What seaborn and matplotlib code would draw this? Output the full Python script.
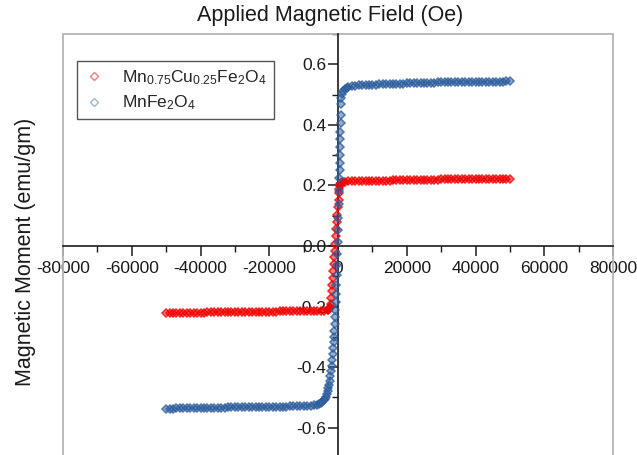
import matplotlib
matplotlib.use("Agg")
import matplotlib.pyplot as plt
import matplotlib.colors as mcolors
import seaborn as sns
import pandas as pd
from matplotlib.patches import Rectangle
from matplotlib.lines import Line2D
from matplotlib.ticker import FixedLocator, MultipleLocator

# ---------------- data ----------------
series_labels = ["Mn$_{0.75}$Cu$_{0.25}$Fe$_2$O$_4$", "MnFe$_2$O$_4$"]

cu_field = [
    -50000, -49000, -48000, -47000, -46000, -45000, -44000, -43000, -42000, -41000,
    -40000, -39000, -38000, -37000, -36000, -35000, -34000, -33000, -32000, -31000,
    -30000, -29000, -28000, -27000, -26000, -25000, -24000, -23000, -22000, -21000,
    -20000, -19000, -18000, -17000, -16000, -15000, -14000, -13000, -12000, -11000,
    -10000, -9000, -8000, -7000, -6000, -5000, -4000, -3000,
    -2800, -2600, -2400, -2250, -2100, -1950, -1800, -1650, -1500, -1350,
    -1200, -1050, -900, -750, -600, -450, -300, -150, 0, 150,
    300, 400, 500, 650, 800, 1000, 1500, 2000,
    3000, 4000, 5000, 6000, 7000, 8000, 9000, 10000,
    11000, 12000, 13000, 14000, 15000, 16000, 17000, 18000, 19000, 20000,
    21000, 22000, 23000, 24000, 25000, 26000, 27000, 28000, 29000, 30000,
    31000, 32000, 33000, 34000, 35000, 36000, 37000, 38000, 39000, 40000,
    41000, 42000, 43000, 44000, 45000, 46000, 47000, 48000, 49000, 50000,
]
cu_moment = [
    -0.221, -0.221, -0.221, -0.221, -0.221, -0.220, -0.220, -0.220, -0.220, -0.220,
    -0.220, -0.220, -0.219, -0.219, -0.219, -0.219, -0.219, -0.219, -0.219, -0.218,
    -0.218, -0.218, -0.218, -0.218, -0.218, -0.218, -0.217, -0.217, -0.217, -0.217,
    -0.217, -0.217, -0.217, -0.216, -0.216, -0.216, -0.216, -0.216, -0.216, -0.215,
    -0.215, -0.215, -0.215, -0.214, -0.214, -0.214, -0.213, -0.212,
    -0.211, -0.209, -0.206, -0.200, -0.190, -0.172, -0.150, -0.128, -0.105, -0.082,
    -0.060, -0.037, -0.015, 0.008, 0.032, 0.056, 0.080, 0.104, 0.128, 0.152,
    0.174, 0.188, 0.198, 0.204, 0.207, 0.209, 0.211, 0.212,
    0.213, 0.213, 0.214, 0.214, 0.214, 0.215, 0.215, 0.215,
    0.215, 0.216, 0.216, 0.216, 0.216, 0.217, 0.217, 0.217, 0.217, 0.218,
    0.218, 0.218, 0.218, 0.218, 0.219, 0.219, 0.219, 0.219, 0.219, 0.220,
    0.220, 0.220, 0.220, 0.220, 0.220, 0.221, 0.221, 0.221, 0.221, 0.221,
    0.221, 0.221, 0.222, 0.222, 0.222, 0.222, 0.222, 0.222, 0.222, 0.222,
]

mn_field = [
    -50000, -49000, -48000, -47000, -46000, -45000, -44000, -43000, -42000, -41000,
    -40000, -39000, -38000, -37000, -36000, -35000, -34000, -33000, -32000, -31000,
    -30000, -29000, -28000, -27000, -26000, -25000, -24000, -23000, -22000, -21000,
    -20000, -19000, -18000, -17000, -16000, -15000, -14000, -13000, -12000, -11000,
    -10000, -9000, -8000, -7000, -6000,
    -5500, -5000, -4600, -4200, -3900, -3600, -3300, -3000, -2800, -2600,
    -2400, -2200, -2000, -1850, -1700, -1550, -1400, -1300, -1200, -1100,
    -1000, -900, -800, -700, -600, -500, -400, -300, -200, -100,
    0, 100, 200, 300, 400, 450, 500, 550, 600, 650,
    700, 750, 800, 900, 1000, 1200, 1500, 2000, 2500, 3000,
    4000, 5000,
    6000, 7000, 8000, 9000, 10000,
    11000, 12000, 13000, 14000, 15000, 16000, 17000, 18000, 19000, 20000,
    21000, 22000, 23000, 24000, 25000, 26000, 27000, 28000, 29000, 30000,
    31000, 32000, 33000, 34000, 35000, 36000, 37000, 38000, 39000, 40000,
    41000, 42000, 43000, 44000, 45000, 46000, 47000, 48000, 49000, 50000,
]
mn_moment = [
    -0.537, -0.537, -0.537, -0.536, -0.536, -0.536, -0.536, -0.536, -0.535, -0.535,
    -0.535, -0.535, -0.535, -0.534, -0.534, -0.534, -0.534, -0.534, -0.533, -0.533,
    -0.533, -0.533, -0.533, -0.532, -0.532, -0.532, -0.532, -0.532, -0.531, -0.531,
    -0.531, -0.531, -0.530, -0.530, -0.530, -0.530, -0.529, -0.529, -0.529, -0.528,
    -0.528, -0.527, -0.527, -0.526, -0.525,
    -0.522, -0.519, -0.515, -0.510, -0.505, -0.498, -0.490, -0.480, -0.470, -0.458,
    -0.445, -0.430, -0.412, -0.395, -0.377, -0.357, -0.336, -0.318, -0.300, -0.280,
    -0.258, -0.236, -0.212, -0.186, -0.158, -0.128, -0.096, -0.062, -0.026, 0.012,
    0.052, 0.094, 0.138, 0.182, 0.226, 0.250, 0.275, 0.300, 0.326, 0.352,
    0.378, 0.405, 0.432, 0.470, 0.490, 0.503, 0.511, 0.517, 0.521, 0.524,
    0.527, 0.529,
    0.530, 0.531, 0.532, 0.532, 0.533,
    0.533, 0.534, 0.534, 0.535, 0.535, 0.535, 0.536, 0.536, 0.536, 0.537,
    0.537, 0.537, 0.538, 0.538, 0.538, 0.539, 0.539, 0.539, 0.540, 0.540,
    0.540, 0.540, 0.541, 0.541, 0.541, 0.541, 0.542, 0.542, 0.542, 0.542,
    0.542, 0.542, 0.543, 0.543, 0.543, 0.543, 0.543, 0.543, 0.544, 0.544,
]

x_ticks = [-80000, -60000, -40000, -20000, 0, 20000, 40000, 60000, 80000]
x_ticklabels = ["-80000", "-60000", "-40000", "-20000", "0", "20000", "40000", "60000", "80000"]
y_ticks = [-0.6, -0.4, -0.2, 0.0, 0.2, 0.4, 0.6]
y_ticklabels = ["-0.6", "-0.4", "-0.2", "0.0", "0.2", "0.4", "0.6"]

title_text = "Applied Magnetic Field (Oe)"
ylabel_text = "Magnetic Moment (emu/gm)"

# ---------------- style ----------------
sns.set_theme(style="white")
plt.rcParams["font.family"] = ["Liberation Sans", "DejaVu Sans"]
plt.rcParams["mathtext.fontset"] = "custom"
plt.rcParams["mathtext.rm"] = "Liberation Sans"
plt.rcParams["mathtext.it"] = "Liberation Sans:italic"
plt.rcParams["mathtext.default"] = "regular"
plt.rcParams["axes.unicode_minus"] = False

red = "#f40000"
blue = "#2d5e9e"


def rgba(c, a):
    r, g, b = mcolors.to_rgb(c)
    return (r, g, b, a)


df_cu = pd.DataFrame({"field": cu_field, "moment": cu_moment})
df_mn = pd.DataFrame({"field": mn_field, "moment": mn_moment})

fig = plt.figure(figsize=(6.37, 4.55), dpi=100)
ax = fig.add_axes([63 / 637, -3 / 455, 550 / 637, 424 / 455])

sns.lineplot(data=df_cu, x="field", y="moment", ax=ax, sort=False, estimator=None,
             linestyle="", marker="D", markersize=3.7, markerfacecolor=rgba(red, 0.5),
             markeredgecolor=rgba(red, 0.8), markeredgewidth=1.1, zorder=3)
sns.lineplot(data=df_mn, x="field", y="moment", ax=ax, sort=False, estimator=None,
             linestyle="", marker="D", markersize=3.7, markerfacecolor=rgba(blue, 0.5),
             markeredgecolor=rgba(blue, 0.8), markeredgewidth=1.1, zorder=4)

ax.set_xlim(-80000, 80000)
ax.set_ylim(-0.70, 0.70)

for side in ["top", "right"]:
    ax.spines[side].set_visible(False)
ax.spines["left"].set_position(("data", 0))
ax.spines["bottom"].set_position(("data", 0))
for side in ["left", "bottom"]:
    ax.spines[side].set_color("#1a1a1a")
    ax.spines[side].set_linewidth(1.2)

frame = Rectangle((0, 0), 1, 1, transform=ax.transAxes, fill=False,
                  edgecolor="#b4b4b4", linewidth=1.3, clip_on=False, zorder=1)
ax.add_patch(frame)

ax.xaxis.set_major_locator(FixedLocator(x_ticks))
ax.set_xticklabels(x_ticklabels)
ax.yaxis.set_major_locator(FixedLocator(y_ticks))
ax.set_yticklabels(y_ticklabels)
ax.xaxis.set_minor_locator(MultipleLocator(10000))
ax.yaxis.set_minor_locator(MultipleLocator(0.1))
ax.tick_params(axis="both", which="major", direction="out", length=7, width=1.1,
               color="#1a1a1a", labelsize=12.5, labelcolor="#1a1a1a")
ax.tick_params(axis="both", which="minor", direction="out", length=4, width=1.0,
               color="#1a1a1a")
ax.tick_params(axis="x", which="major", pad=3.5)
ax.tick_params(axis="y", which="major", pad=1.5)
ax.tick_params(left=True, bottom=True, which="both")
ax.set_xlabel("")
ax.set_ylabel("")

fig.text(330 / 637, 1 - 16 / 455, title_text, ha="center", va="center",
         fontsize=15.5, color="#1a1a1a")
fig.text(26 / 637, 1 - 252 / 455, ylabel_text, ha="center", va="center",
         rotation=90, fontsize=15.5, color="#1a1a1a")

handles = [
    Line2D([], [], linestyle="", marker="D", markersize=3.6, markerfacecolor="none",
           markeredgecolor="#f08080", markeredgewidth=1.0),
    Line2D([], [], linestyle="", marker="D", markersize=3.6, markerfacecolor="none",
           markeredgecolor="#9fb5d6", markeredgewidth=1.0),
]
leg = ax.legend(handles, series_labels, loc="upper left",
                bbox_to_anchor=(77 / 637, 1 - 61 / 455), bbox_transform=fig.transFigure,
                borderaxespad=0, frameon=True, fancybox=False, framealpha=1,
                edgecolor="#555555", fontsize=12.5, handlelength=1.2,
                handletextpad=1.0, borderpad=0.4, labelspacing=0.4)
leg.get_frame().set_linewidth(1.0)

fig.savefig("out.png", dpi=100)
